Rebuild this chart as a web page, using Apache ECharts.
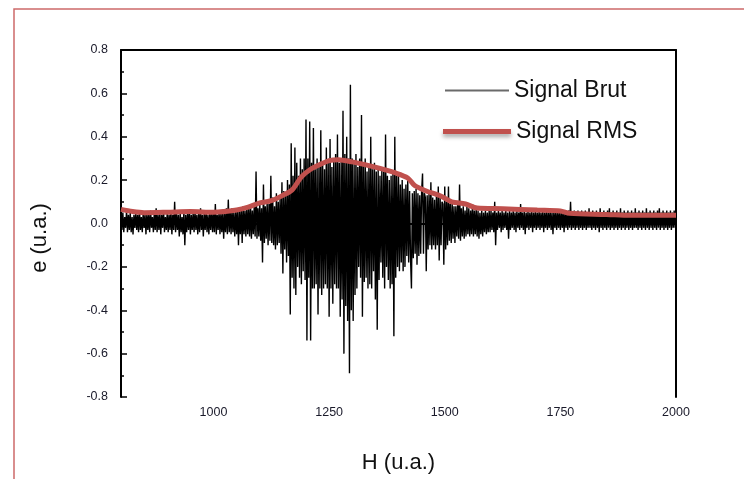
<!DOCTYPE html>
<html>
<head>
<meta charset="utf-8">
<script src="https://cdn.jsdelivr.net/npm/echarts@6/dist/echarts.min.js"></script>
<style>
html,body{margin:0;padding:0;background:#fff;}
#chart{width:744px;height:479px;}
</style>
</head>
<body>
<div id="chart"></div>
<script>
// Raw signal sampled every 2 units of H from 800 to 2000
const hStart = 800;
const hStep = 2;
const signalBrut = [
  // 800-898
  0.04,-0.03,0.05,-0.04,0.03,-0.02,0.06,-0.04,0.04,-0.03,
  0.05,-0.04,0.03,-0.05,0.04,-0.02,0.05,-0.03,0.04,-0.04,
  0.06,-0.03,0.03,-0.04,0.05,-0.02,0.04,-0.05,0.05,-0.03,
  0.04,-0.04,0.06,-0.02,0.03,-0.04,0.05,-0.03,0.07,-0.04,
  0.04,-0.03,0.05,-0.05,0.04,-0.02,0.06,-0.04,0.03,-0.03,
  // 900-998
  0.05,-0.04,0.04,-0.03,0.06,-0.05,0.04,-0.03,0.10,-0.04,
  0.05,-0.03,0.04,-0.06,0.05,-0.04,0.03,-0.05,0.06,-0.10,
  0.04,-0.04,0.05,-0.03,0.06,-0.05,0.04,-0.03,0.05,-0.04,
  0.06,-0.03,0.04,-0.05,0.05,-0.04,0.07,-0.03,0.04,-0.06,
  0.05,-0.03,0.06,-0.04,0.04,-0.05,0.05,-0.03,0.06,-0.04,
  // 1000-1098
  0.05,-0.04,0.09,-0.05,0.04,-0.03,0.06,-0.05,0.05,-0.04,
  0.06,-0.07,0.05,-0.04,0.07,-0.05,0.11,-0.04,0.06,-0.05,
  0.07,-0.04,0.05,-0.06,0.06,-0.05,0.07,-0.10,0.06,-0.05,
  0.07,-0.09,0.08,-0.05,0.06,-0.06,0.08,-0.05,0.07,-0.06,
  0.09,-0.07,0.06,-0.05,0.08,-0.06,0.24,-0.07,0.07,-0.06,
  // 1100-1198
  0.10,-0.08,0.07,-0.18,0.18,-0.09,0.08,-0.07,0.10,-0.10,
  0.09,-0.08,0.22,-0.09,0.12,-0.10,0.08,-0.12,0.14,-0.10,
  0.10,-0.09,0.12,-0.14,0.19,-0.23,0.15,-0.12,0.14,-0.18,
  0.20,-0.15,0.18,-0.42,0.37,-0.25,0.22,-0.30,0.35,-0.33,
  0.28,-0.20,0.22,-0.25,0.30,-0.28,0.25,-0.22,0.30,-0.26,
  // 1200-1298
  0.48,-0.54,0.30,-0.25,0.47,-0.54,0.28,-0.30,0.44,-0.30,
  0.25,-0.28,0.30,-0.42,0.26,-0.30,0.43,-0.33,0.28,-0.30,
  0.25,-0.28,0.35,-0.30,0.28,-0.43,0.39,-0.30,0.26,-0.37,
  0.30,-0.28,0.32,-0.30,0.41,-0.30,0.28,-0.43,0.30,-0.35,
  0.52,-0.60,0.32,-0.38,0.40,-0.45,0.30,-0.69,0.64,-0.40,
  // 1300-1398
  0.30,-0.45,0.28,-0.33,0.32,-0.30,0.26,-0.20,0.30,-0.25,
  0.50,-0.43,0.28,-0.27,0.30,-0.25,0.24,-0.30,0.26,-0.28,
  0.40,-0.30,0.25,-0.22,0.28,-0.35,0.24,-0.49,0.25,-0.26,
  0.22,-0.18,0.25,-0.25,0.24,-0.30,0.41,-0.20,0.22,-0.26,
  0.20,-0.30,0.22,-0.28,0.24,-0.52,0.40,-0.25,0.22,-0.20,
  // 1400-1498
  0.22,-0.22,0.18,-0.18,0.20,-0.22,0.16,-0.20,0.18,-0.15,
  0.20,-0.18,0.15,-0.16,-0.30,0.14,-0.16,0.15,-0.14,0.16,
  -0.19,0.14,-0.15,0.13,-0.14,0.15,0.23,-0.14,0.14,0.12,
  -0.22,0.13,-0.12,0.14,-0.10,0.19,-0.12,0.12,-0.10,0.11,
  -0.12,0.13,-0.10,0.17,-0.17,0.12,-0.10,0.10,0.09,-0.19,
  // 1500-1598
  0.17,-0.12,0.10,-0.10,0.17,-0.08,0.09,-0.09,0.10,-0.07,
  0.08,-0.09,0.08,-0.06,0.09,-0.07,0.18,-0.08,0.07,-0.06,
  0.08,-0.07,0.06,-0.06,0.08,-0.05,0.07,-0.06,0.06,-0.05,
  0.09,-0.06,0.06,-0.05,0.07,-0.06,0.06,-0.07,0.05,-0.05,
  0.06,-0.06,0.05,-0.04,0.06,-0.05,0.05,-0.04,0.06,-0.04,
  // 1600-1698
  0.06,-0.03,0.05,-0.04,0.10,-0.10,0.05,-0.03,0.06,-0.02,
  0.05,-0.04,0.06,-0.03,0.05,-0.02,0.06,-0.03,0.05,-0.07,
  0.06,-0.03,0.05,-0.02,0.06,-0.03,0.05,-0.04,0.06,-0.02,
  0.05,-0.03,0.09,-0.02,0.05,-0.03,0.06,-0.05,0.05,-0.02,
  0.06,-0.03,0.05,-0.02,0.06,-0.04,0.05,-0.02,0.06,-0.03,
  // 1700-1798
  0.05,-0.02,0.06,-0.03,0.05,-0.02,0.06,-0.04,0.05,-0.02,
  0.06,-0.03,0.05,-0.02,0.06,-0.03,0.05,-0.05,0.06,-0.02,
  0.05,-0.03,0.06,-0.02,0.05,-0.03,0.06,-0.02,0.05,-0.04,
  0.06,-0.02,0.05,-0.03,0.06,-0.02,0.10,-0.03,0.05,-0.02,
  0.06,-0.03,0.05,-0.02,0.06,-0.03,0.05,-0.02,0.06,-0.03,
  // 1800-1898
  0.05,-0.02,0.06,-0.03,0.05,-0.02,0.07,-0.02,0.05,-0.03,
  0.06,-0.02,0.05,-0.03,0.06,-0.02,0.05,-0.04,0.07,-0.02,
  0.05,-0.03,0.06,-0.02,0.05,-0.03,0.06,-0.02,0.07,-0.03,
  0.05,-0.02,0.06,-0.03,0.05,-0.02,0.06,-0.03,0.05,-0.02,
  0.07,-0.03,0.05,-0.02,0.06,-0.03,0.05,-0.02,0.06,-0.03,
  // 1900-2000
  0.05,-0.02,0.06,-0.03,0.05,-0.02,0.07,-0.02,0.05,-0.03,
  0.06,-0.02,0.05,-0.03,0.06,-0.02,0.05,-0.03,0.07,-0.02,
  0.05,-0.03,0.06,-0.02,0.05,-0.03,0.06,-0.02,0.05,-0.03,
  0.06,-0.02,0.07,-0.03,0.05,-0.02,0.06,-0.03,0.05,-0.02,
  0.06,-0.03,0.05,-0.02,0.06,-0.03,0.05,-0.02,0.06,-0.02,0.04
];

// RMS envelope
const rmsH = [800,825,850,900,950,1000,1050,1075,1100,1125,1150,1170,1190,1210,1230,1250,1270,1300,1345,1395,1420,1435,1460,1490,1515,1545,1570,1625,1700,1750,1770,1850,1900,2000];
const rmsValues = [0.065,0.055,0.05,0.052,0.055,0.052,0.062,0.075,0.095,0.105,0.13,0.155,0.215,0.25,0.272,0.29,0.294,0.284,0.262,0.232,0.21,0.175,0.15,0.128,0.10,0.09,0.071,0.068,0.062,0.058,0.047,0.042,0.038,0.038];

const xMajorTicks = [1000,1250,1500,1750,2000];
const xMinorTicks = [875,1125,1375,1625,1875];
const seriesNames = ['Signal Brut','Signal RMS'];
const xTitle = 'H (u.a.)';
const yTitle = 'e (u.a.)';

const brutData = signalBrut.map((v,i)=>[hStart + i*hStep, v]);
const rmsData = rmsH.map((h,i)=>[h, rmsValues[i]]);

const FONT = 'Liberation Sans, Arial, sans-serif';
const chart = echarts.init(document.getElementById('chart'), null, {renderer:'canvas'});
const labelFont = {fontFamily:FONT, fontSize:12.5, color:'#1a1a2a'};
const titleFont = {fontFamily:FONT, fontSize:22, color:'#111'};
const axisLine = {show:true, lineStyle:{color:'#000', width:2}};
const legendText = {fontFamily:FONT, fontSize:23, color:'#111'};

chart.setOption({
  animation:false,
  backgroundColor:'#fff',
  graphic:[{
    type:'rect', silent:true, z:-10,
    shape:{x:14, y:9, width:760, height:500},
    style:{fill:'none', stroke:'#cd6a6a', lineWidth:1.5}
  },{
    type:'text', silent:true, x:40, y:238, rotation:Math.PI/2,
    style:{text:yTitle, textAlign:'center', textVerticalAlign:'middle',
      font:'22px ' + FONT, fill:'#111'}
  }],
  grid:{left:121, right:68, top:50, bottom:72, containLabel:false},
  legend:[
    {data:[seriesNames[0]], left:445, top:79, padding:0, orient:'vertical', itemWidth:64, itemHeight:2,
     icon:'rect', itemStyle:{color:'#6a6a6a'}, textStyle:legendText},
    {data:[seriesNames[1]], left:443, top:120, padding:0, orient:'vertical', itemWidth:68, itemHeight:5,
     icon:'rect', itemStyle:{color:'#c0504d', shadowColor:'rgba(0,0,0,0.35)', shadowBlur:4, shadowOffsetY:3},
     textStyle:legendText}
  ],
  xAxis:[{
    type:'value', min:800, max:2000, position:'bottom',
    name:xTitle, nameLocation:'middle', nameGap:55, nameTextStyle:titleFont,
    axisLine:axisLine,
    axisTick:{show:true, inside:true, length:6, customValues:xMajorTicks, lineStyle:{color:'#000', width:1.5}},
    axisLabel:{show:true, customValues:xMajorTicks, margin:9, formatter:v=>String(v), ...labelFont},
    splitLine:{show:false}
  },{
    type:'value', min:800, max:2000, position:'bottom',
    axisLine:{show:false},
    axisTick:{show:true, inside:true, length:3, customValues:xMinorTicks, lineStyle:{color:'#000', width:1.5}},
    axisLabel:{show:false}, splitLine:{show:false}
  },{
    type:'value', min:800, max:2000, position:'top',
    axisLine:axisLine, axisTick:{show:false}, axisLabel:{show:false}, splitLine:{show:false}
  }],
  yAxis:[{
    type:'value', min:-0.8, max:0.8, interval:0.2, position:'left',
    axisLine:axisLine,
    axisTick:{show:true, inside:true, length:6, lineStyle:{color:'#000', width:1.5}},
    minorTick:{show:true, splitNumber:2, length:3, lineStyle:{color:'#000', width:1.5}},
    axisLabel:{show:true, margin:13, formatter:v=>v.toFixed(1), ...labelFont},
    splitLine:{show:false}
  },{
    type:'value', min:-0.8, max:0.8, position:'right',
    axisLine:axisLine, axisTick:{show:false}, axisLabel:{show:false}, splitLine:{show:false}
  }],
  series:[{
    name:seriesNames[0], type:'line', xAxisIndex:0, yAxisIndex:0,
    data:brutData, symbol:'none', z:2,
    lineStyle:{color:'#000', width:1.4},
    itemStyle:{color:'#6a6a6a'}
  },{
    name:seriesNames[1], type:'line', xAxisIndex:0, yAxisIndex:0,
    data:rmsData, symbol:'none', smooth:0.3, z:3,
    lineStyle:{color:'#c0504d', width:5},
    itemStyle:{color:'#c0504d'}
  }]
});
</script>
</body>
</html>
